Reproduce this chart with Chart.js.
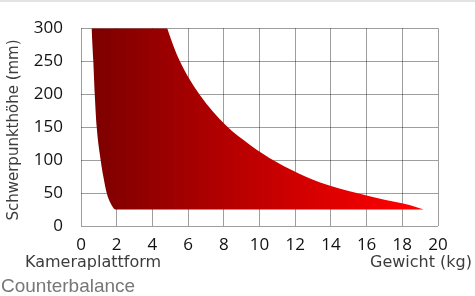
<!DOCTYPE html>
<html><head><meta charset="utf-8">
<script src="https://cdn.jsdelivr.net/npm/chart.js@4/dist/chart.umd.min.js"></script>
<style>
html,body{margin:0;padding:0;background:#fff;}
body{width:475px;height:296px;position:relative;overflow:hidden;}
#wrap{position:absolute;left:0;top:0;width:475px;height:296px;}
#topline{position:absolute;left:0;top:0;width:475px;height:2px;background:#e3e3e3;}
#caption{position:absolute;left:1px;top:276px;font:19px "Liberation Sans",Arial,sans-serif;line-height:19px;color:#777;}
</style></head><body>
<div id="wrap"><canvas id="c"></canvas></div>
<div id="topline"></div>
<div id="caption">Counterbalance</div>
<script>
const xTicks = [0, 2, 4, 6, 8, 10, 12, 14, 16, 18, 20];
const yTicks = [0, 50, 100, 150, 200, 250, 300];
// lower/left boundary of the filled region (weight kg -> height mm); region is cut off above 300
const lowerX = [0.56, 0.6, 0.69, 0.77, 0.88, 1.1, 1.25, 1.44, 1.65, 1.95, 19.2];
const lowerY = [340, 300, 250, 200, 150, 100, 75, 50, 35, 25, 25];
// upper/right boundary of the filled region
const upperX = [0.56, 4.4, 4.83, 5.5, 6.65, 8.1, 9.47, 10.95, 11.8, 13.4, 15.45, 17.0, 18.4, 19.2];
const upperY = [340, 340, 300, 252, 199, 153, 123, 97, 85, 66, 50, 40, 32, 25];

const toPts = (xs, ys) => xs.map((x, i) => ({x: x, y: ys[i]}));

const labelPlugin = {
  id: 'extraLabels',
  afterDraw(chart) {
    const ctx = chart.ctx;
    ctx.save();
    ctx.fillStyle = '#3c3c3c';
    ctx.font = '16px "DejaVu Sans"';
    ctx.textBaseline = 'alphabetic';
    ctx.textAlign = 'left';
    ctx.fillText('Kameraplattform', 25, 267);
    ctx.fillText('Gewicht (kg)', 370, 267);
    ctx.translate(18, 130);
    ctx.rotate(-Math.PI / 2);
    ctx.textAlign = 'center';
    ctx.font = '15px "DejaVu Sans"';
    ctx.fillText('Schwerpunkthöhe (mm)', 0, 0);
    ctx.restore();
  }
};

const redGradient = (context) => {
  const chart = context.chart;
  if (!chart.chartArea) return '#a00000';
  const xs = chart.scales.x;
  const g = chart.ctx.createLinearGradient(xs.getPixelForValue(0.5), 0, xs.getPixelForValue(18.5), 0);
  g.addColorStop(0, '#7c0000');
  g.addColorStop(1, '#ff0000');
  return g;
};

const gridColor = 'rgba(0,0,0,0.38)';
new Chart(document.getElementById('c'), {
  type: 'line',
  data: {
    datasets: [{
      data: toPts(upperX, upperY),
      fill: '+1',
      borderWidth: 0,
      pointRadius: 0,
      cubicInterpolationMode: 'monotone',
      backgroundColor: redGradient
    }, {
      data: toPts(lowerX, lowerY),
      fill: false,
      borderWidth: 0,
      pointRadius: 0,
      cubicInterpolationMode: 'monotone',
      backgroundColor: redGradient
    }]
  },
  options: {
    responsive: true,
    maintainAspectRatio: false,
    animation: false,
    layout: {padding: {left: 0, right: 37, top: 21, bottom: 0}},
    plugins: {legend: {display: false}, tooltip: {enabled: false}},
    scales: {
      x: {
        type: 'linear', min: 0, max: 20, z: 1,
        afterFit(s) { s.height = 70; },
        afterBuildTicks(s) { s.ticks = xTicks.map(v => ({value: v})); },
        grid: {color: gridColor, drawTicks: false},
        border: {display: false},
        ticks: {padding: 9, font: {family: 'Open Sans', size: 17}, color: '#111', maxRotation: 0, autoSkip: false}
      },
      y: {
        type: 'linear', min: 0, max: 300, z: 1,
        afterFit(s) { s.width = 81; },
        afterBuildTicks(s) { s.ticks = yTicks.map(v => ({value: v})); },
        grid: {color: gridColor, drawTicks: false},
        border: {display: false},
        ticks: {padding: 18, font: {family: 'Open Sans', size: 17}, color: '#111', autoSkip: false}
      }
    }
  },
  plugins: [labelPlugin]
});
</script>
</body></html>
